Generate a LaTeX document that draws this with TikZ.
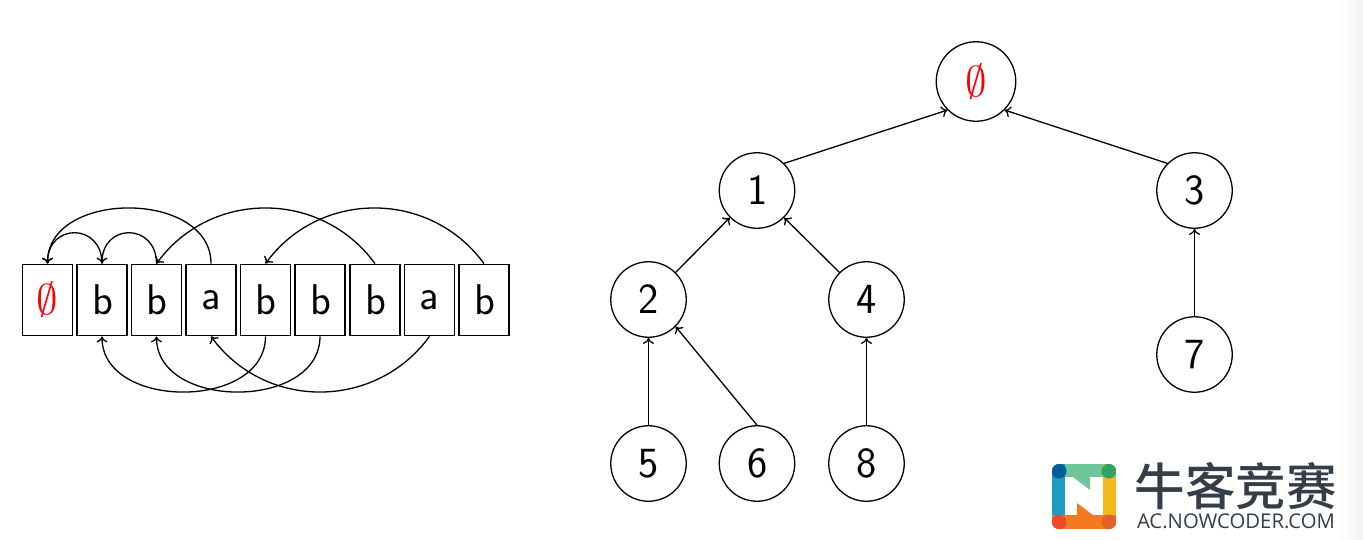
\documentclass[tikz,border=0pt]{standalone}
\usepackage{fix-cm}
\usepackage{fontspec}
\newfontfamily\cjkfont{Noto Sans CJK SC Medium}
\newfontfamily\logofont{Open Sans}
\usetikzlibrary{arrows.meta,calc}
\definecolor{logotext}{HTML}{333E48}
\definecolor{lblue}{HTML}{1F9BC4}
\definecolor{lgreen}{HTML}{6FC69B}
\definecolor{lyellow}{HTML}{F2B91F}
\definecolor{lorange}{HTML}{F47A20}
\definecolor{cblue}{HTML}{055E99}
\definecolor{cgreen}{HTML}{2FA363}
\definecolor{cred}{HTML}{EF4727}
\definecolor{cbrown}{HTML}{E2622C}
\tikzset{
  cell/.style={draw,line width=1.3pt,minimum width=50pt,minimum height=71.5pt,inner sep=0pt,font=\fontsize{43}{43}\selectfont\sffamily},
  vertex/.style={draw,circle,line width=1.3pt,minimum size=75.5pt,inner sep=0pt,font=\fontsize{43}{43}\selectfont\sffamily},
  link/.style={draw,line width=1.3pt,-{To[length=6pt,width=11pt]}},
  empt/.style={text=red}
}
\begin{document}
\begin{tikzpicture}[x=1pt,y=-1pt]
\useasboundingbox (0,0) rectangle (1363,539);
\shade[left color=white,right color=black!4,draw=none] (1335,0) rectangle (1363,539);
% array
\node[cell,empt] (c0) at (47.5,300) {$\emptyset$};
\node[cell] (c1) at (102,300) {\hspace{1pt}b};
\node[cell] (c2) at (156.5,300) {\hspace{1pt}b};
\node[cell] (c3) at (211,300) {a};
\node[cell] (c4) at (265.5,300) {\hspace{1pt}b};
\node[cell] (c5) at (320,300) {\hspace{1pt}b};
\node[cell] (c6) at (375,300) {\hspace{1pt}b};
\node[cell] (c7) at (429.5,300) {a};
\node[cell] (c8) at (484,300) {\hspace{1pt}b};
\path[link] (c1.north) .. controls +(0,-41) and +(0,-41) .. (c0.north);
\path[link] (c2.north) .. controls +(0,-41) and +(0,-41) .. (c1.north);
\path[link] (c3.north) .. controls +(0,-74) and +(0,-74) .. (c0.north);
\path[link] (c6.north) .. controls +(-54,-74) and +(54,-74) .. (c2.north);
\path[link] (c8.north) .. controls +(-54,-74) and +(54,-74) .. (c4.north);
\path[link] (c4.south) .. controls +(0,74) and +(0,74) .. (c1.south);
\path[link] (c5.south) .. controls +(0,74) and +(0,74) .. (c2.south);
\path[link] (c7.south) .. controls +(-54,74) and +(54,74) .. (c3.south);
% tree
\node[vertex,empt,minimum size=79.5pt] (r) at (976,81.5) {$\emptyset$};
\node[vertex] (n1) at (757,190.5) {\hspace{1pt}1};
\node[vertex] (n3) at (1194.5,190.5) {\hspace{1pt}3};
\node[vertex] (n2) at (648.5,299.5) {\hspace{1pt}2};
\node[vertex] (n4) at (866.5,299.5) {\hspace{1pt}4};
\node[vertex] (n7) at (1194.5,354.5) {\hspace{1pt}7};
\node[vertex] (n5) at (648.5,463.5) {\hspace{1pt}5};
\node[vertex] (n6) at (757,463.5) {\hspace{1pt}6};
\node[vertex] (n8) at (866.5,463.5) {\hspace{1pt}8};
\path[link] (n1.north east) -- (r.south west);
\path[link] (n3.north west) -- (r.south east);
\path[link] (n2.north east) -- (n1.south west);
\path[link] (n4.north west) -- (n1.south east);
\path[link] (n7.north) -- (n3.south);
\path[link] (n5.north) -- (n2.south);
\path[link] (n6.north) -- (n2.south east);
\path[link] (n8.north) -- (n4.south);
% logo
\begin{scope}
\clip[rounded corners=7pt] (1052,464) rectangle (1116,529);
\fill[lgreen] (1052,464) rectangle (1116,477);
\fill[lblue] (1052,464) rectangle (1065,529);
\fill[lyellow] (1103,464) rectangle (1116,529);
\fill[lorange] (1052,515) rectangle (1116,529);
\fill[white] (1065,477) rectangle (1103,515);
\fill[lgreen] (1073,477) -- (1090,490) -- (1090,477) -- cycle;
\fill[lorange] (1077,515) -- (1077,503) -- (1093,515) -- cycle;
\fill[cblue] (1059,471) circle (7.5);
\fill[cgreen] (1109,471) circle (7.5);
\fill[cred] (1059,522) circle (7.5);
\fill[cbrown] (1109,522) circle (7.5);
\end{scope}
\node[inner sep=0pt,text=logotext,anchor=center,font=\fontsize{50.5}{50.5}\selectfont\cjkfont] (logoa) at (1235.5,486) {牛客竞赛};
\node[inner sep=0pt,text=logotext,anchor=center,font=\fontsize{20.3}{20.3}\selectfont\logofont] (logob) at (1236,521) {AC.NOWCODER.COM};
\end{tikzpicture}
\end{document}
